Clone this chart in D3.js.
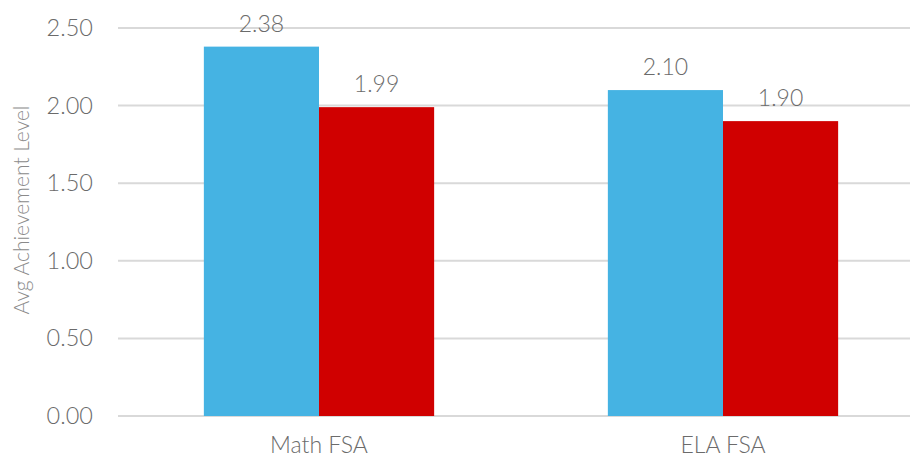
<!DOCTYPE html>
<html>
<head>
<meta charset="utf-8">
<script src="https://cdn.jsdelivr.net/npm/d3@7"></script>
<style>
  body { margin: 0; background: #fff; }
  svg { display: block; font-family: "Lato", "Open Sans", sans-serif; }
</style>
</head>
<body>
<div id="chart"></div>
<script>
let
    svgWidth = 910,
    svgHeight = 459

// chart values
let categories = ["Math FSA", "ELA FSA"]
let seriesNames = ["Series A", "Series B"]
let seriesA = [2.38, 2.10]
let seriesB = [1.99, 1.90]
let yTicks = [0, 0.5, 1, 1.5, 2, 2.5]
let colors = ["#45B3E3", "#D00000"]

let data = categories.map((c, i) => ({ cat: c, values: [seriesA[i], seriesB[i]] }))

let svg = d3.select("#chart")
    .append("svg")
    .attr("width", svgWidth)
    .attr("height", svgHeight)

// x scale runs a bit past the right edge like the original
let x0 = d3.scaleBand()
    .domain(categories)
    .range([117, 925])
    .paddingInner(0.43)
    .paddingOuter(0.215)

let x1 = d3.scaleBand()
    .domain(seriesNames)
    .range([0, x0.bandwidth()])

let y = d3.scaleLinear()
    .domain([0, 2.5])
    .range([416, 28])

// gridlines
svg.append("g")
    .selectAll("line")
    .data(yTicks)
    .enter()
    .append("line")
    .attr("x1", 118)
    .attr("x2", svgWidth)
    .attr("y1", d => y(d))
    .attr("y2", d => y(d))
    .attr("stroke", "#d9d9d9")
    .attr("stroke-width", 2)

// y axis labels
let yAxis = svg.append("g")
    .attr("transform", "translate(93,0)")
    .call(d3.axisLeft(y).tickValues(yTicks).tickFormat(d3.format(".2f")).tickSize(0).tickPadding(0))
yAxis.select(".domain").remove()
yAxis.selectAll("text")
    .attr("font-size", 23.5)
    .attr("font-family", "Lato, sans-serif")
    .attr("font-weight", 300)
    .attr("fill", "#6b6b6b")

// bars
let groups = svg.append("g")
    .selectAll("g")
    .data(data)
    .enter()
    .append("g")
    .attr("transform", d => `translate(${x0(d.cat)},0)`)

groups.selectAll("rect")
    .data(d => d.values.map((v, i) => ({ key: seriesNames[i], v: v, i: i })))
    .enter()
    .append("rect")
    .attr("x", d => x1(d.key))
    .attr("y", d => y(d.v))
    .attr("width", x1.bandwidth())
    .attr("height", d => y(0) - y(d.v))
    .attr("fill", d => colors[d.i])

// value labels
groups.selectAll("text")
    .data(d => d.values.map((v, i) => ({ key: seriesNames[i], v: v })))
    .enter()
    .append("text")
    .attr("x", d => x1(d.key) + x1.bandwidth() / 2)
    .attr("y", d => y(d.v) - 15)
    .attr("text-anchor", "middle")
    .attr("font-size", 23)
    .attr("font-weight", 300)
    .attr("fill", "#6b6b6b")
    .text(d => d3.format(".2f")(d.v))

// category labels
svg.append("g")
    .selectAll("text")
    .data(categories)
    .enter()
    .append("text")
    .attr("x", d => x0(d) + x0.bandwidth() / 2)
    .attr("y", 453)
    .attr("text-anchor", "middle")
    .attr("font-size", 23)
    .attr("font-weight", 300)
    .attr("fill", "#6b6b6b")
    .text(d => d)

// y axis title
svg.append("text")
    .attr("transform", `translate(29, 210) rotate(-90)`)
    .attr("text-anchor", "middle")
    .attr("font-size", 21)
    .attr("font-weight", 300)
    .attr("fill", "#8a8a8a")
    .text("Avg Achievement Level")
</script>
</body>
</html>
